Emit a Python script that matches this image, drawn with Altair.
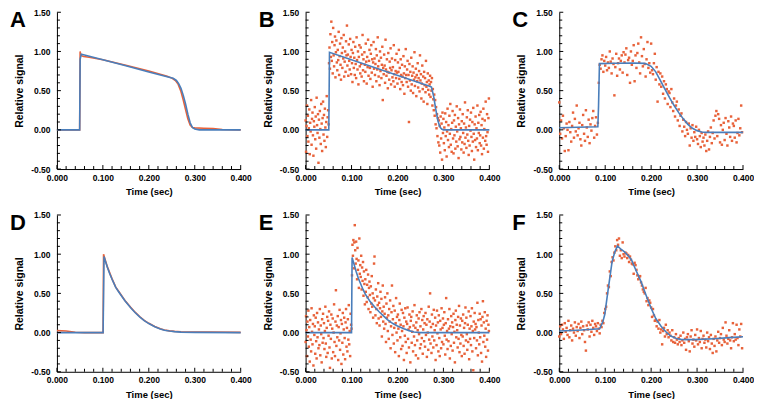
import altair as alt
import numpy as np
import pandas as pd

# ---------------- axis ticks / labels ----------------
X_MAJOR = [0.0, 0.1, 0.2, 0.3, 0.4]
X_MINOR = [0.02, 0.04, 0.06, 0.08, 0.12, 0.14, 0.16, 0.18, 0.22, 0.24, 0.26, 0.28,
           0.32, 0.34, 0.36, 0.38]
Y_MAJOR = [-0.5, 0.0, 0.5, 1.0, 1.5]
Y_MINOR = [-0.4, -0.3, -0.2, -0.1, 0.1, 0.2, 0.3, 0.4, 0.6, 0.7, 0.8, 0.9,
           1.1, 1.2, 1.3, 1.4]

# ---------------- Panel A (dense trace vs fit) ----------------
A_DATA_T = [0, 0.0495, 0.0505, 0.052, 0.058, 0.07, 0.1, 0.15, 0.2, 0.24, 0.25, 0.258,
            0.264, 0.27, 0.275, 0.28, 0.285, 0.29, 0.295, 0.3, 0.32, 0.34, 0.36, 0.4]
A_DATA_Y = [0, 0, 1.0, 0.95, 0.935, 0.925, 0.895, 0.825, 0.75, 0.685, 0.66, 0.63,
            0.58, 0.49, 0.38, 0.26, 0.14, 0.06, 0.03, 0.025, 0.02, 0.015, 0.005, 0]
A_FIT_T = [0, 0.0495, 0.0505, 0.053, 0.06, 0.1, 0.15, 0.2, 0.24, 0.253, 0.26, 0.265,
           0.27, 0.275, 0.28, 0.285, 0.29, 0.295, 0.3, 0.31, 0.4]
A_FIT_Y = [0, 0, 0.9, 0.965, 0.955, 0.894, 0.817, 0.739, 0.677, 0.657, 0.63, 0.59,
           0.53, 0.44, 0.33, 0.2, 0.09, 0.03, 0.01, 0.0, 0.0]

# ---------------- Panel D ----------------
D_DATA_T = [0, 0.02, 0.04, 0.06, 0.1005, 0.1015, 0.104, 0.11, 0.12, 0.128, 0.135, 0.148,
            0.16, 0.17, 0.18, 0.19, 0.2, 0.213, 0.225, 0.234, 0.245, 0.256, 0.27, 0.3,
            0.33, 0.4]
D_DATA_Y = [0.025, 0.02, 0.005, 0.0, 0.0, 1.0, 0.95, 0.835, 0.685, 0.58, 0.52, 0.41,
            0.325, 0.26, 0.205, 0.156, 0.118, 0.078, 0.05, 0.033, 0.022, 0.015, 0.01,
            0.008, 0.007, 0.003]
D_FIT_T = [0, 0.1005, 0.1025, 0.105, 0.11, 0.115, 0.12, 0.128, 0.135, 0.148, 0.16,
           0.17, 0.18, 0.19, 0.2, 0.213, 0.225, 0.234, 0.245, 0.256, 0.27, 0.3, 0.4]
D_FIT_Y = [0, 0, 0.97, 0.92, 0.83, 0.75, 0.68, 0.576, 0.515, 0.405, 0.32, 0.256, 0.2,
           0.152, 0.115, 0.075, 0.047, 0.03, 0.02, 0.012, 0.006, 0.002, 0.0]

# ---------------- Panel B (noisy, 1 ms samples) ----------------
B_STEP = 0.001
B_Y = [
    0.12, -0.28, 0.05, 0.31, -0.08, 0.18, -0.15, 0.02, 0.26, -0.31,
    0.09, -0.02, 0.38, -0.19, 0.14, 0.22, -0.07, -0.33, 0.11, 0.04,
    0.29, -0.12, 0.17, -0.24, 0.41, 0.06, -0.04, 0.2, -0.42, 0.13,
    -0.1, 0.24, 0.01, -0.18, 0.33, 0.08, -0.27, 0.15, 0.36, -0.06,
    0.19, -0.14, 0.27, 0.03, -0.22, 0.1, 0.43, -0.09, 0.16, 0.25,
    0.07, 0.85, 1.05, 0.78, 1.22, 0.93, 1.38, 0.88, 1.12, 0.72,
    1.3, 0.95, 0.81, 1.08, 1.19, 0.67, 0.99, 1.14, 0.86, 0.76,
    1.02, 0.89, 1.25, 0.7, 0.94, 1.1, 0.83, 0.64, 1.17, 0.98,
    0.79, 1.05, 0.91, 1.21, 0.68, 0.87, 1.0, 0.74, 1.13, 0.95,
    1.33, 0.82, 0.96, 0.69, 1.09, 0.88, 0.77, 1.16, 0.93, 0.71,
    1.02, 0.85, 0.61, 0.98, 1.12, 0.79, 0.92, 0.7, 1.06, 0.84,
    0.66, 1.18, 0.89, 0.77, 1.0, 0.58, 0.93, 1.08, 0.81, 0.72,
    1.05, 0.84, 0.68, 0.96, 1.21, 0.76, 0.9, 0.62, 0.99, 0.83,
    0.74, 1.1, 0.87, 0.59, 0.93, 0.8, 1.15, 0.69, 0.88, 1.02,
    0.79, 0.65, 0.97, 1.08, 0.73, 0.9, 0.55, 0.86, 1.12, 0.78,
    0.91, 0.7, 0.84, 1.03, 0.62, 0.95, 0.77, 1.18, 0.81, 0.68,
    0.88, 0.57, 1.0, 0.75, 0.92, 0.66, 0.83, 1.06, 0.38, 0.79,
    0.71, 0.96, 0.82, 0.6, 1.15, 0.77, 0.69, 0.9, 0.74, 0.53,
    0.98, 0.73, 0.64, 0.87, 0.79, 1.04, 0.58, 0.76, 0.91, 0.67,
    0.8, 0.62, 1.08, 0.71, 0.55, 0.89, 0.75, 0.66, 0.97, 0.73,
    0.59, 0.86, 0.74, 1.02, 0.65, 0.79, 0.52, 0.9, 0.7, 0.61,
    0.83, 0.68, 0.57, 0.94, 0.72, 0.46, 0.81, 0.66, 1.03, 0.7,
    0.61, 0.77, 0.88, 0.55, 0.7, 0.1, 0.84, 0.63, 0.74, 0.5,
    0.92, 0.58, 0.69, 0.81, 0.47, 0.73, 0.64, 0.99, 0.56, 0.67,
    0.78, 0.43, 0.7, 0.62, 0.85, 0.54, 0.66, 0.75, 0.49, 0.95,
    0.63, 0.71, 0.4, 0.59, 0.82, 0.52, 0.68, 0.36, 0.74, 0.57,
    0.66, 0.48, 0.88, 0.55, 0.61, 0.33, 0.72, 0.51, 0.63, 0.45,
    0.58, 0.69, 0.42, 0.61, 0.5, 0.66, 0.31, 0.52, 0.39, 0.25,
    0.45, 0.18, 0.38, 0.07, 0.29, 0.02, 0.2, -0.08, 0.15, -0.16,
    0.12, -0.2, 0.05, -0.29, 0.17, -0.11, 0.08, -0.38, 0.22, -0.04,
    0.14, -0.17, 0.03, -0.26, 0.21, -0.08, 0.1, -0.34, -0.02, 0.27,
    -0.13, 0.06, -0.22, 0.18, -0.05, 0.33, -0.19, 0.01, -0.28, 0.09,
    0.24, -0.11, -0.3, 0.12, -0.07, 0.19, -0.24, 0.04, -0.15, 0.3,
    -0.02, -0.21, 0.15, -0.36, 0.07, -0.12, 0.26, -0.09, 0.02, -0.25,
    0.11, -0.16, 0.2, -0.04, -0.29, 0.08, -0.18, 0.35, -0.1, 0.03,
    -0.23, 0.16, -0.06, 0.25, -0.14, -0.32, 0.05, -0.2, 0.13, -0.01,
    0.22, -0.09, -0.27, 0.1, -0.15, 0.28, -0.05, -0.38, 0.07, -0.13,
    0.17, -0.22, 0.02, -0.11, 0.31, -0.26, 0.09, -0.04, 0.19, -0.17,
    -0.07, 0.23, -0.2, 0.06, -0.31, 0.14, -0.1, 0.27, -0.24, 0.01,
    0.12, -0.14, 0.36, -0.08, -0.19, 0.2, -0.03, -0.28, 0.15, 0.4,
]
B_FIT_T = [0, 0.0505, 0.052, 0.27, 0.274, 0.279, 0.283, 0.288, 0.292, 0.296, 0.3, 0.4]
B_FIT_Y = [0, 0, 0.99, 0.557, 0.545, 0.42, 0.27, 0.12, 0.04, 0.01, 0.0, 0.0]

# ---------------- Panel E (noisy, 1 ms samples) ----------------
E_STEP = 0.001
E_Y = [
    -0.12, 0.21, 0.03, -0.3, 0.14, -0.05, 0.28, -0.18, 0.07, -0.37,
    0.16, -0.09, -0.24, 0.31, 0.01, -0.15, 0.11, -0.42, 0.22, -0.03,
    0.08, -0.27, 0.19, -0.11, -0.33, 0.25, -0.06, 0.13, -0.2, 0.04,
    -0.16, 0.3, -0.29, 0.09, -0.02, -0.38, 0.17, -0.13, 0.24, -0.07,
    0.12, -0.21, 0.02, 0.33, -0.14, -0.31, 0.06, 0.2, -0.26, 0.15,
    -0.04, 0.27, -0.19, -0.45, 0.1, -0.08, 0.23, -0.33, 0.05, 0.18,
    -0.25, 0.0, 0.36, -0.12, -0.3, 0.14, 0.54, -0.17, 0.09, -0.06,
    0.21, -0.35, 0.07, -0.1, 0.29, -0.22, -0.01, 0.16, -0.4, 0.11,
    -0.13, 0.25, -0.28, 0.04, 0.19, -0.07, -0.34, 0.13, 0.3, -0.18,
    0.06, -0.24, 0.17, -0.09, 0.35, -0.15, 0.02, -0.3, 0.24, 0.1,
    0.05, 0.73, 1.12, 0.98, 1.18, 0.82, 1.15, 1.37, 1.05, 0.88,
    1.16, 0.94, 0.68, 1.08, 0.8, 0.92, 0.57, 1.2, 0.75, 0.86,
    0.71, 0.98, 0.55, 0.83, 0.66, 0.9, 0.47, 0.78, 0.62, 0.36,
    0.68, 0.52, 0.8, 0.39, 0.61, 0.45, 0.74, 0.3, 0.57, 0.65,
    0.48, 0.26, 0.59, 0.37, 0.72, 0.33, 0.5, 0.19, 0.44, 0.88,
    0.97, 0.41, 0.22, 0.55, 0.3, 0.12, 0.46, 0.35, 0.63, 0.18,
    0.38, 0.09, 0.31, 0.52, 0.2, 0.43, -0.05, 0.27, 0.6, 0.14,
    0.33, 0.05, 0.24, 0.45, 0.11, -0.12, 0.37, 0.19, 0.5, 0.02,
    0.22, -0.08, 0.3, 0.14, 0.41, -0.2, 0.08, 0.26, 0.6, -0.03,
    0.17, 0.34, -0.14, 0.06, 0.28, -0.25, 0.12, 0.44, 0.0, 0.2,
    -0.1, 0.23, 0.05, -0.3, 0.16, 0.37, -0.06, 0.1, -0.21, 0.29,
    0.02, -0.17, 0.25, 0.08, -0.35, 0.19, -0.04, 0.31, -0.12, 0.14,
    -0.26, 0.11, 0.32, -0.08, 0.04, -0.19, 0.23, 0.07, -0.38, 0.15,
    0.2, -0.13, 0.01, 0.27, -0.24, 0.09, -0.05, 0.35, -0.16, 0.06,
    -0.29, 0.13, 0.22, -0.1, 0.03, -0.33, 0.18, -0.02, 0.26, -0.2,
    0.08, -0.15, 0.3, -0.07, 0.16, -0.27, 0.04, 0.21, -0.11, 0.12,
    -0.18, 0.25, -0.03, 0.1, -0.31, 0.17, 0.0, -0.22, 0.33, -0.09,
    0.14, 0.5, -0.14, 0.07, -0.26, 0.23, -0.05, 0.11, -0.19, 0.29,
    -0.1, 0.03, 0.19, -0.35, 0.09, -0.16, 0.28, -0.01, 0.13, -0.24,
    0.22, -0.07, -0.3, 0.15, 0.04, -0.2, 0.31, -0.12, 0.06, 0.18,
    -0.15, 0.1, 0.26, -0.04, -0.28, 0.12, 0.44, -0.09, 0.02, -0.21,
    0.17, -0.11, 0.05, 0.3, -0.33, 0.08, -0.17, 0.21, -0.02, 0.13,
    -0.23, 0.07, 0.24, -0.13, 0.01, -0.38, 0.16, 0.28, -0.06, 0.1,
    0.03, -0.19, 0.2, -0.08, 0.34, -0.25, 0.09, -0.14, 0.18, -0.03,
    -0.3, 0.15, -0.05, 0.23, -0.17, 0.06, -0.27, 0.12, 0.32, -0.1,
    0.19, -0.02, -0.22, 0.1, -0.12, 0.27, -0.34, 0.05, -0.08, 0.21,
    -0.16, 0.08, 0.31, -0.24, 0.02, -0.48, 0.14, -0.07, 0.25, 0.04,
    0.11, -0.2, 0.07, -0.1, 0.38, -0.29, 0.16, 0.0, -0.15, 0.24,
    -0.06, 0.17, -0.26, 0.09, -0.37, 0.2, 0.4, -0.12, 0.13, -0.04,
    0.26, -0.18, 0.05, -0.31, 0.15, -0.09, 0.22, -0.23, 0.1, 0.02,
]
E_FIT_T = [0, 0.1, 0.1012, 0.105, 0.11, 0.115, 0.12, 0.125, 0.13, 0.14, 0.15, 0.16,
           0.17, 0.178, 0.19, 0.2, 0.214, 0.225, 0.236, 0.25, 0.4]
E_FIT_Y = [0, 0, 0.958, 0.88, 0.78, 0.69, 0.62, 0.55, 0.49, 0.4, 0.33, 0.265, 0.21,
           0.166, 0.115, 0.085, 0.05, 0.025, 0.008, 0.0, 0.0]

# ---------------- Panel C (noisy, 2 ms samples) ----------------
C_STEP = 0.002
C_Y = [
    0.35, -0.05, 0.12, -0.11, 0.18, 0.02, -0.27, -0.08, 0.08, 0.0,
    -0.26, 0.1, -0.03, -0.15, 0.05, 0.22, -0.1, 0.14, -0.02, 0.31,
    -0.07, 0.02, 0.09, -0.12, -0.2, 0.06, 0.19, -0.05, -0.14, 0.25,
    0.03, -0.09, 0.13, -0.17, 0.07, -0.01, 0.15, 0.24, -0.1, 0.05,
    0.16, -0.06, 0.09, 0.6, 0.83, 0.78, 0.9, 0.95, 0.74, 0.88,
    0.82, 0.93, 0.76, 0.86, 0.79, 1.0, 0.87, 0.72, 0.91, 0.84,
    0.44, 0.8, 0.97, 0.69, 0.85, 0.91, 0.77, 0.88, 0.95, 0.73,
    0.99, 0.86, 0.96, 1.04, 0.7, 0.89, 0.92, 0.6, 1.0, 0.83,
    0.88, 1.08, 0.62, 0.95, 0.79, 0.98, 1.1, 0.86, 0.72, 1.18,
    0.94, 0.81, 1.03, 0.84, 0.68, 0.9, 1.12, 0.79, 0.85, 0.73,
    1.1, 0.76, 0.71, 0.85, 0.97, 0.64, 0.8, 0.36, 0.74, 0.58,
    0.72, 0.55, 0.68, 0.46, 0.62, 0.4, 0.58, 0.52, 0.33, 0.49,
    0.47, 0.29, 0.52, 0.35, 0.24, 0.4, 0.17, 0.31, 0.36, 0.12,
    0.26, 0.05, 0.18, 0.21, -0.02, 0.13, 0.04, -0.08, 0.1, 0.0,
    -0.05, 0.08, -0.2, 0.02, -0.1, 0.06, -0.14, -0.03, -0.09, 0.04,
    -0.12, -0.18, 0.0, -0.08, -0.22, -0.04, -0.15, -0.1, -0.2, -0.06,
    -0.27, -0.14, -0.02, -0.25, -0.09, 0.03, -0.17, -0.04, 0.12, -0.11,
    0.18, 0.24, -0.08, 0.2, 0.14, -0.16, 0.06, -0.19, 0.0, 0.09,
    -0.13, 0.15, -0.05, -0.2, 0.11, 0.03, -0.09, 0.17, -0.14, 0.08,
    0.05, -0.1, 0.12, -0.16, -0.04, 0.14, -0.07, 0.02, 0.31, -0.03,
]
C_FIT_T = [0, 0.04, 0.084, 0.0855, 0.0875, 0.12, 0.16, 0.185, 0.19, 0.2, 0.21, 0.22,
           0.23, 0.24, 0.25, 0.26, 0.27, 0.28, 0.29, 0.3, 0.31, 0.32, 0.4]
C_FIT_Y = [0.027, 0.033, 0.04, 0.3, 0.845, 0.85, 0.852, 0.848, 0.84, 0.81, 0.74, 0.63,
           0.52, 0.41, 0.31, 0.22, 0.14, 0.07, 0.02, -0.01, -0.028, -0.032, -0.032]

# ---------------- Panel F (noisy, 2 ms samples) ----------------
F_STEP = 0.002
F_Y = [
    -0.05, 0.08, -0.02, 0.1, 0.04, -0.08, 0.12, 0.01, 0.06, -0.03,
    0.15, -0.06, 0.03, 0.09, -0.1, 0.05, 0.0, 0.13, -0.04, 0.07,
    0.02, 0.11, -0.07, 0.06, 0.14, -0.02, 0.08, 0.03, -0.12, -0.23,
    0.09, 0.04, 0.13, -0.05, 0.1, 0.01, 0.15, 0.06, -0.03, 0.11,
    0.08, 0.02, 0.12, 0.05, -0.01, 0.1, 0.07, 0.15, 0.12, 0.25,
    0.3, 0.33, 0.5, 0.6, 0.58, 0.78, 0.72, 0.9, 0.96, 0.92,
    1.02, 1.1, 1.05, 1.18, 1.12, 1.2, 0.98, 1.05, 0.95, 1.15,
    1.0, 0.97, 1.02, 1.01, 0.95, 0.99, 0.9, 0.97, 0.93, 0.88,
    0.87, 0.75, 0.89, 0.86, 0.8, 0.73, 0.68, 0.71, 0.72, 0.64,
    0.6, 0.55, 0.52, 0.5, 0.57, 0.4, 0.44, 0.35, 0.41, 0.38,
    0.32, 0.2, 0.3, 0.22, 0.15, 0.16, 0.08, 0.14, 0.05, 0.16,
    0.0, 0.04, -0.15, 0.02, 0.06, -0.05, 0.1, -0.02, 0.03, -0.06,
    0.0, -0.04, -0.1, 0.03, -0.12, -0.06, -0.13, -0.02, -0.09, -0.15,
    -0.07, -0.12, -0.04, -0.16, -0.1, 0.0, -0.13, -0.08, -0.22, -0.06,
    -0.02, -0.11, -0.24, -0.05, 0.03, -0.14, -0.09, -0.18, -0.03, -0.1,
    0.04, -0.15, -0.07, -0.12, 0.02, -0.2, -0.08, -0.04, -0.13, -0.09,
    -0.19, 0.0, -0.11, -0.06, -0.21, -0.03, -0.14, -0.26, -0.08, -0.17,
    -0.05, -0.24, -0.1, 0.01, -0.13, -0.07, -0.02, -0.16, 0.06, -0.09,
    -0.12, 0.13, -0.04, -0.14, -0.08, 0.03, -0.1, -0.2, -0.06, 0.12,
    -0.11, -0.02, -0.09, 0.1, -0.07, -0.16, 0.04, -0.05, 0.11, -0.2,
]
F_FIT_T = [0, 0.04, 0.088, 0.095, 0.099, 0.1065, 0.115, 0.121, 0.1266, 0.135, 0.142,
           0.15, 0.157, 0.165, 0.178, 0.19, 0.2, 0.21, 0.2216, 0.232, 0.243, 0.255,
           0.265, 0.28, 0.2935, 0.3367, 0.37, 0.4]
F_FIT_Y = [0.02, 0.03, 0.048, 0.14, 0.23, 0.55, 0.905, 1.03, 1.105, 1.06, 1.03, 0.98,
           0.93, 0.82, 0.65, 0.46, 0.31, 0.18, 0.08, 0.01, -0.045, -0.075, -0.087,
           -0.09, -0.09, -0.078, -0.065, -0.053]

# ---------------- styling ----------------
ORANGE = "#e8623a"
BLUE = "#4a7ebb"
FONT = "Liberation Sans"
W, H = 184, 157

XS = alt.Scale(domain=[0, 0.4], nice=False, zero=False)
YS = alt.Scale(domain=[-0.5, 1.5], nice=False, zero=False)

X_AXIS = alt.Axis(values=X_MAJOR, format=".3f", title="Time (sec)", ticks=False,
                  grid=False, labelFlush=False, labelOverlap=False, labelPadding=4,
                  titlePadding=5, labelFontSize=8.5, titleFontSize=9.5)
Y_AXIS = alt.Axis(values=Y_MAJOR, title="Relative signal", ticks=False, grid=False,
                  labelFlush=False, labelOverlap=False,
                  labelExpr="datum.value < 0 ? '-' + format(-datum.value, '.2f') : format(datum.value, '.2f')",
                  labelPadding=7, titlePadding=6, labelFontSize=8.5, titleFontSize=10.5)


def sampled(values, step):
    return pd.DataFrame({"t": np.round(np.arange(len(values)) * step, 4), "y": values})


def trace(ts, ys):
    return pd.DataFrame({"t": ts, "y": ys})


def enc_x(field):
    return alt.X(field, scale=XS, axis=X_AXIS)


def enc_y(field):
    return alt.Y(field, scale=YS, axis=Y_AXIS)


def tick_layers():
    # inward-pointing axis ticks, placed through the scales
    xmin = alt.Chart(pd.DataFrame({"v": X_MINOR})).mark_rule(color="black", strokeWidth=1).encode(
        x=enc_x("v:Q"), y=alt.value(H), y2=alt.value(H - 3))
    xmaj = alt.Chart(pd.DataFrame({"v": X_MAJOR})).mark_rule(color="black", strokeWidth=1).encode(
        x=enc_x("v:Q"), y=alt.value(H), y2=alt.value(H - 4))
    ymin = alt.Chart(pd.DataFrame({"v": Y_MINOR})).mark_rule(color="black", strokeWidth=1).encode(
        y=enc_y("v:Q"), x=alt.value(0), x2=alt.value(3))
    ymaj = alt.Chart(pd.DataFrame({"v": Y_MAJOR})).mark_rule(color="black", strokeWidth=1).encode(
        y=enc_y("v:Q"), x=alt.value(0), x2=alt.value(4))
    return [xmin, xmaj, ymin, ymaj]


def letter_layer(letter):
    return alt.Chart(pd.DataFrame({"label": [letter]})).mark_text(
        align="left", baseline="alphabetic", fontSize=22, fontWeight="bold", font=FONT,
        color="black").encode(x=alt.value(-47), y=alt.value(15), text="label:N")


def panel(letter, data_df, fit_df, as_line):
    if as_line:
        data = alt.Chart(data_df).mark_line(color=ORANGE, strokeWidth=1.6)
    else:
        data = alt.Chart(data_df).mark_square(color=ORANGE, size=6, opacity=1)
    data = data.encode(x=enc_x("t:Q"), y=enc_y("y:Q"))
    fit = alt.Chart(fit_df).mark_line(color=BLUE, strokeWidth=1.6).encode(
        x=enc_x("t:Q"), y=enc_y("y:Q"))
    return alt.layer(data, fit, *tick_layers(), letter_layer(letter)).properties(width=W, height=H)


pA = panel("A", trace(A_DATA_T, A_DATA_Y), trace(A_FIT_T, A_FIT_Y), True)
pB = panel("B", sampled(B_Y, B_STEP), trace(B_FIT_T, B_FIT_Y), False)
pC = panel("C", sampled(C_Y, C_STEP), trace(C_FIT_T, C_FIT_Y), False)
pD = panel("D", trace(D_DATA_T, D_DATA_Y), trace(D_FIT_T, D_FIT_Y), True)
pE = panel("E", sampled(E_Y, E_STEP), trace(E_FIT_T, E_FIT_Y), False)
pF = panel("F", sampled(F_Y, F_STEP), trace(F_FIT_T, F_FIT_Y), False)

chart = alt.vconcat(
    alt.hconcat(alt.hconcat(pA, pB, spacing=7), pC, spacing=12),
    alt.hconcat(alt.hconcat(pD, pE, spacing=7), pF, spacing=12),
    spacing=15,
).properties(
    padding={"left": 2, "top": 0, "right": 0, "bottom": 0},
    background="white",
).configure_view(stroke=None).configure_axis(
    labelFont=FONT, titleFont=FONT, labelFontWeight="bold", titleFontWeight="bold",
    labelColor="black", titleColor="black", domainColor="black", domainWidth=1,
)

chart.save("out.html", embed_options={"renderer": "svg", "actions": False})
